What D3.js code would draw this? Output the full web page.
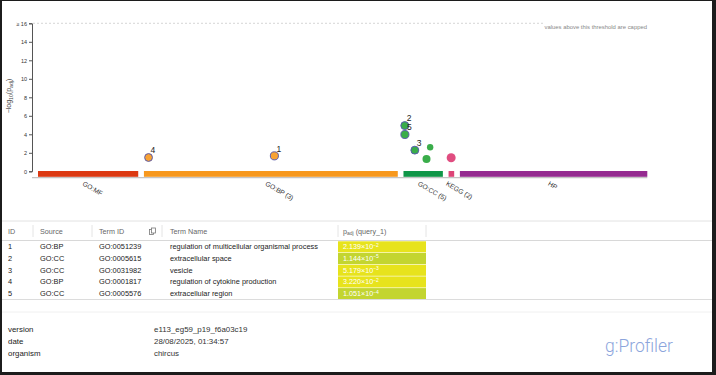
<!DOCTYPE html>
<html>
<head>
<meta charset="utf-8">
<script src="https://cdn.jsdelivr.net/npm/d3@7"></script>
<style>
  body { margin: 0; background: #1c1c1c; }
  svg { display: block; font-family: "Liberation Sans", Arial, sans-serif; }
</style>
</head>
<body>
<div id="container"></div>
<script>
// sources on the x axis (term counts set the segment widths)
const sources = ["GO:MF", "GO:BP", "GO:CC", "KEGG", "HP"];
const sourceLabels = ["GO:MF", "GO:BP (3)", "GO:CC (5)", "KEGG (2)", "HP"];
const sourceTermCounts = [5300, 13425, 2083, 297, 9911];
const sourceColors = ["#dc3912", "#f7981d", "#109648", "#dd4477", "#952b90"];
const pointColors = ["#e0452a", "#f8a234", "#3aad4a", "#e04d80", "#9a3596"];

// points: source, position of term inside source, -log10(padj), term size, label
const pointSource = ["GO:BP", "GO:BP", "GO:CC", "GO:CC", "GO:CC", "GO:CC", "GO:CC", "KEGG"];
const pointPos = [245, 6900, 69, 75, 600, 1410, 1218, 137];
const pointValue = [1.492, 1.670, 4.942, 3.978, 2.286, 2.60, 1.33, 1.47];
const pointSize = [1560, 1650, 1600, 1640, 1580, 820, 1280, 1620];
const pointLabel = ["4", "1", "2", "5", "3", "", "", ""];

const yTicks = [0, 2, 4, 6, 8, 10, 12, 14, 16];

// table
const tableIds = ["1", "2", "3", "4", "5"];
const tableSources = ["GO:BP", "GO:CC", "GO:CC", "GO:BP", "GO:CC"];
const tableTermIds = ["GO:0051239", "GO:0005615", "GO:0031982", "GO:0001817", "GO:0005576"];
const tableNames = ["regulation of multicellular organismal process", "extracellular space", "vesicle",
                    "regulation of cytokine production", "extracellular region"];
const tableMantissa = ["2.139", "1.144", "5.179", "3.220", "1.051"];
const tableExponent = [-2, -5, -3, -2, -4];

const footerKeys = ["version", "date", "organism"];
const footerValues = ["e113_eg59_p19_f6a03c19", "28/08/2025, 01:34:57", "chircus"];

const width = 716, height = 375;

var svg = d3.select("#container").append("svg")
    .attr("width", width)
    .attr("height", height);

svg.append("rect")
    .attr("x", 2).attr("y", 1)
    .attr("width", 710).attr("height", 371)
    .attr("fill", "#fff");

// ---- manhattan plot ----
var y = d3.scaleLinear().domain([0, 16]).range([171.3, 23.3]);

var gap = 5.7, xStart = 38;
var totalTerms = d3.sum(sourceTermCounts);
var w = d3.scaleLinear().domain([0, totalTerms]).range([0, 647.3 - xStart - gap * (sources.length - 1)]);

var segStart = [];
var acc = xStart;
sourceTermCounts.forEach(function(c) {
    segStart.push(acc);
    acc += w(c) + gap;
});

function px(src, pos) {
    var i = sources.indexOf(src);
    return segStart[i] + w(pos);
}

// y axis
var yAxis = svg.append("g")
    .attr("transform", "translate(32,0)")
    .call(d3.axisLeft(y).tickValues(yTicks).tickSize(3).tickPadding(2)
        .tickFormat(function(d) { return d === 16 ? "\u2265 16" : d; }));
yAxis.selectAll("text").attr("font-size", 5.5).attr("fill", "#333").attr("font-family", "Liberation Sans, Arial");
yAxis.selectAll("line, path").attr("stroke", "#555");

var yl = svg.append("text")
    .attr("transform", "translate(11,96) rotate(-90)")
    .attr("text-anchor", "middle")
    .attr("font-size", 7)
    .attr("fill", "#444");
yl.append("tspan").text("\u2212log");
yl.append("tspan").attr("font-size", 5.2).attr("dy", 1.8).text("10");
yl.append("tspan").attr("dy", -1.8).text("(p");
yl.append("tspan").attr("font-size", 5.2).attr("dy", 1.8).text("adj");
yl.append("tspan").attr("dy", -1.8).text(")");

// cap threshold
svg.append("line")
    .attr("x1", 33).attr("x2", 545)
    .attr("y1", y(16)).attr("y2", y(16))
    .attr("stroke", "#ccc").attr("stroke-dasharray", "2,2").attr("stroke-width", 0.8);
svg.append("text")
    .attr("x", 647).attr("y", 28.7)
    .attr("text-anchor", "end")
    .attr("font-size", 5.9)
    .attr("fill", "#888")
    .text("values above this threshold are capped");

// x axis line + segments
svg.append("line")
    .attr("x1", 32).attr("x2", 647.3)
    .attr("y1", 177.6).attr("y2", 177.6)
    .attr("stroke", "#c4c4c4").attr("stroke-width", 1.4);

svg.selectAll(".seg")
    .data(sources)
    .enter().append("rect")
    .attr("class", "seg")
    .attr("x", function(d, i) { return segStart[i]; })
    .attr("y", 171)
    .attr("width", function(d, i) { return w(sourceTermCounts[i]); })
    .attr("height", 5.8)
    .attr("fill", function(d, i) { return sourceColors[i]; });

svg.selectAll(".srclabel")
    .data(sourceLabels)
    .enter().append("text")
    .attr("class", "srclabel")
    .attr("transform", function(d, i) {
        var cx = segStart[i] + w(sourceTermCounts[i]) / 2 - 6;
        return `translate(${cx}, ${185}) rotate(30)`;
    })
    .attr("font-size", 6.7)
    .attr("fill", "#333")
    .text(function(d) { return d; });

// points
var r = d3.scaleSqrt().domain([0, 2000]).range([0, 5]);
var points = pointValue.map(function(v, i) {
    return { src: pointSource[i], pos: pointPos[i], v: v, size: pointSize[i], label: pointLabel[i] };
});
// draw unlabeled first, labeled on top
points.sort(function(a, b) { return (a.label ? 1 : 0) - (b.label ? 1 : 0); });

svg.selectAll(".pt")
    .data(points)
    .enter().append("circle")
    .attr("class", "pt")
    .attr("cx", function(d) { return px(d.src, d.pos); })
    .attr("cy", function(d) { return y(d.v); })
    .attr("r", function(d) { return r(d.size) - (d.label ? 0.5 : 0); })
    .attr("fill", function(d) { return pointColors[sources.indexOf(d.src)]; })
    .attr("stroke", function(d) { return d.label ? "#5a5cae" : "none"; })
    .attr("stroke-width", 1);

svg.selectAll(".ptlabel")
    .data(points.filter(function(d) { return d.label; }))
    .enter().append("text")
    .attr("class", "ptlabel")
    .attr("x", function(d) { return px(d.src, d.pos) + 2; })
    .attr("y", function(d) { return y(d.v) - 4.3; })
    .attr("font-size", 8.5)
    .attr("fill", "#222")
    .text(function(d) { return d.label; });

// ---- table ----
var tTop = 221, hdrBottom = 240.5, rowH = 11.7;
var colX = [8, 40, 99, 170, 343];
var sepX = [33, 92, 162, 338, 426];

svg.append("line").attr("x1", 2).attr("x2", 712).attr("y1", tTop).attr("y2", tTop)
    .attr("stroke", "#e2e2e2");
svg.append("line").attr("x1", 2).attr("x2", 712).attr("y1", hdrBottom).attr("y2", hdrBottom)
    .attr("stroke", "#d8d8d8");

svg.selectAll(".colsep")
    .data(sepX)
    .enter().append("line")
    .attr("x1", function(d) { return d; }).attr("x2", function(d) { return d; })
    .attr("y1", 225).attr("y2", 237)
    .attr("stroke", "#e4e4e4");

var headers = ["ID", "Source", "Term ID", "Term Name"];
svg.selectAll(".hdr")
    .data(headers)
    .enter().append("text")
    .attr("class", "hdr")
    .attr("x", function(d, i) { return colX[i]; })
    .attr("y", 233.5)
    .attr("font-size", 7.2)
    .attr("fill", "#666")
    .text(function(d) { return d; });

var ph = svg.append("text").attr("x", colX[4]).attr("y", 233.5).attr("font-size", 7.2).attr("fill", "#666");
ph.append("tspan").text("p");
ph.append("tspan").attr("font-size", 5).attr("dy", 1.5).text("adj");
ph.append("tspan").attr("dy", -1.5).text(" (query_1)");

// little copy icon in the Term ID header
var icon = svg.append("g").attr("transform", "translate(149,228)").attr("fill", "none").attr("stroke", "#777").attr("stroke-width", 0.8);
icon.append("rect").attr("x", 0.5).attr("y", 1.5).attr("width", 4).attr("height", 5);
icon.append("rect").attr("x", 2.5).attr("y", 0).attr("width", 4).attr("height", 5).attr("fill", "#fff");

var rowY = function(i) { return hdrBottom + 0.5 + i * rowH; };

var pColor = d3.scaleThreshold().domain([3]).range(["#e7e31c", "#c3d530"]);

svg.selectAll(".pcell")
    .data(tableMantissa)
    .enter().append("rect")
    .attr("class", "pcell")
    .attr("x", 338)
    .attr("y", function(d, i) { return rowY(i) + 0.3; })
    .attr("width", 88)
    .attr("height", rowH - 0.6)
    .attr("fill", function(d, i) { return pColor(-Math.log10(+d * Math.pow(10, tableExponent[i]))); });

var cols = [tableIds, tableSources, tableTermIds, tableNames];
cols.forEach(function(col, c) {
    svg.selectAll(".c" + c)
        .data(col)
        .enter().append("text")
        .attr("class", "c" + c)
        .attr("x", colX[c])
        .attr("y", function(d, i) { return rowY(i) + 8.2; })
        .attr("font-size", 7.4)
        .attr("fill", "#222")
        .text(function(d) { return d; });
});

var pv = svg.selectAll(".pv")
    .data(tableMantissa)
    .enter().append("text")
    .attr("class", "pv")
    .attr("x", colX[4])
    .attr("y", function(d, i) { return rowY(i) + 8.2; })
    .attr("font-size", 7.2)
    .attr("fill", "#fff");
pv.append("tspan").text(function(d) { return d + "\u00d710"; });
pv.append("tspan").attr("font-size", 5).attr("dy", -2.5)
    .text(function(d, i) { return "\u2212" + Math.abs(tableExponent[i]); });

svg.append("line").attr("x1", 2).attr("x2", 712).attr("y1", 299.5).attr("y2", 299.5)
    .attr("stroke", "#dcdcdc");
svg.append("line").attr("x1", 2).attr("x2", 712).attr("y1", 312).attr("y2", 312)
    .attr("stroke", "#f0f0f0");

// ---- footer ----
svg.selectAll(".fk")
    .data(footerKeys)
    .enter().append("text")
    .attr("class", "fk")
    .attr("x", 8)
    .attr("y", function(d, i) { return 332 + i * 12.1; })
    .attr("font-size", 7.9)
    .attr("fill", "#222")
    .text(function(d) { return d; });

svg.selectAll(".fv")
    .data(footerValues)
    .enter().append("text")
    .attr("class", "fv")
    .attr("x", 154)
    .attr("y", function(d, i) { return 332 + i * 12.1; })
    .attr("font-size", 7.9)
    .attr("fill", "#333")
    .text(function(d) { return d; });

svg.append("text")
    .attr("x", 605).attr("y", 352)
    .attr("font-size", 17.5)
    .attr("font-family", "Roboto, 'Liberation Sans', sans-serif")
    .attr("font-weight", 300)
    .attr("fill", "#8ca5dc")
    .text("g:Profiler");
</script>
</body>
</html>
